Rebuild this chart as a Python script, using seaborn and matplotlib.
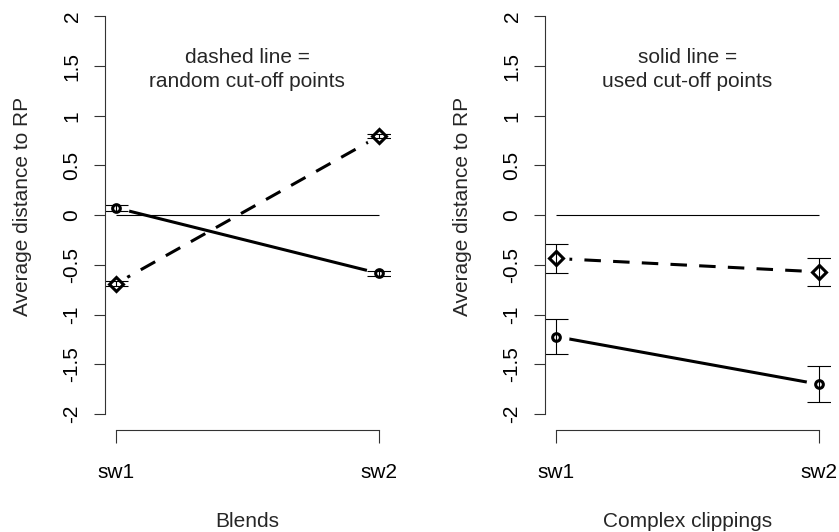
import numpy as np
import pandas as pd
import matplotlib
matplotlib.use('Agg')
import matplotlib.pyplot as plt
import seaborn as sns

# values
switches = ['sw1', 'sw2']
panels = ['Blends', 'Complex clippings']
notes = ['dashed line =\nrandom cut-off points', 'solid line =\nused cut-off points']

blends_used = [0.075, -0.585]
blends_used_err = [0.03, 0.025]
blends_random = [-0.69, 0.795]
blends_random_err = [0.025, 0.02]

clip_used = [-1.22, -1.70]
clip_used_err = [0.18, 0.18]
clip_random = [-0.435, -0.57]
clip_random_err = [0.148, 0.137]

yticks = [-2, -1.5, -1, -0.5, 0, 0.5, 1, 1.5, 2]
ytick_labels = ['-2', '-1.5', '-1', '-0.5', '0', '0.5', '1', '1.5', '2']

rows = []
for panel, used, used_err, rnd, rnd_err in [
        (panels[0], blends_used, blends_used_err, blends_random, blends_random_err),
        (panels[1], clip_used, clip_used_err, clip_random, clip_random_err)]:
    for i, sw in enumerate(switches):
        rows.append((panel, sw, i, 'used', used[i], used_err[i]))
        rows.append((panel, sw, i, 'random', rnd[i], rnd_err[i]))
df = pd.DataFrame(rows, columns=['panel', 'switch', 'pos', 'cutoff', 'dist', 'err'])

sns.set_theme(style='white')
plt.rcParams['font.family'] = ['Liberation Sans', 'DejaVu Sans']
plt.rcParams['font.size'] = 15

fig = plt.figure(figsize=(8.39, 5.32), dpi=100)
W, H = 839, 532
lefts = [105.2, 545.2]
markers = {'used': 'o', 'random': 'D'}
msizes = {'used': 5.5, 'random': 7}

for k, panel in enumerate(panels):
    ax = fig.add_axes([lefts[k] / W, (H - 430) / H, 284.3 / W, 429.6 / H])
    sub = df[df['panel'] == panel]

    sns.lineplot(data=sub, x='switch', y='dist', style='cutoff',
                 style_order=['used', 'random'],
                 dashes={'used': '', 'random': (5.4, 4)},
                 color='black', lw=2.2, errorbar=None, sort=False,
                 legend=False, ax=ax)
    for ln in ax.lines:
        ln.set_zorder(1)

    # white halo so the lines stop short of the points (R type = "b")
    ax.scatter(sub['pos'], sub['dist'], s=350, c='white', lw=0, zorder=2)

    ax.hlines(0, 0, len(switches) - 1, color='black', lw=0.8, zorder=3)

    ax.errorbar(sub['pos'], sub['dist'], yerr=sub['err'], fmt='none',
                ecolor='black', elinewidth=0.8, capsize=8.6, capthick=0.8,
                zorder=4)
    for cut in ['used', 'random']:
        d = sub[sub['cutoff'] == cut]
        ax.plot(d['pos'], d['dist'], ls='none', marker=markers[cut],
                ms=msizes[cut], mfc='none', mec='black', mew=2.2, zorder=5)

    ax.text(0.5, 1.468, notes[k], ha='center', va='center', fontsize=15,
            linespacing=1.35)

    ax.set_xlim(-0.04, 1.04)
    ax.set_ylim(-2.16, 2.16)
    ax.set_xticks(range(len(switches)))
    ax.set_xticklabels(switches)
    ax.set_yticks(yticks)
    ax.set_yticklabels(ytick_labels, rotation=90, va='center')

    for side in ['top', 'right']:
        ax.spines[side].set_visible(False)
    ax.spines['left'].set_bounds(-2, 2)
    ax.spines['bottom'].set_bounds(0, 1)
    for side in ['left', 'bottom']:
        ax.spines[side].set_color('#333333')
        ax.spines[side].set_linewidth(0.8)
        ax.spines[side].set_zorder(10)
    ax.tick_params(axis='y', left=True, length=8, width=0.8, color='#333333',
                   pad=9, labelsize=15, labelcolor='black')
    ax.tick_params(axis='x', bottom=True, length=9, width=0.8, color='#333333',
                   pad=15, labelsize=15, labelcolor='black')

    ax.set_xlabel(panel, fontsize=15, labelpad=21.5)
    ax.set_ylabel('Average distance to RP', fontsize=15)
    ax.yaxis.set_label_coords(-0.2575, 0.52)
    ax.patch.set_alpha(0)

fig.savefig('out.png', dpi=100)
plt.close()
